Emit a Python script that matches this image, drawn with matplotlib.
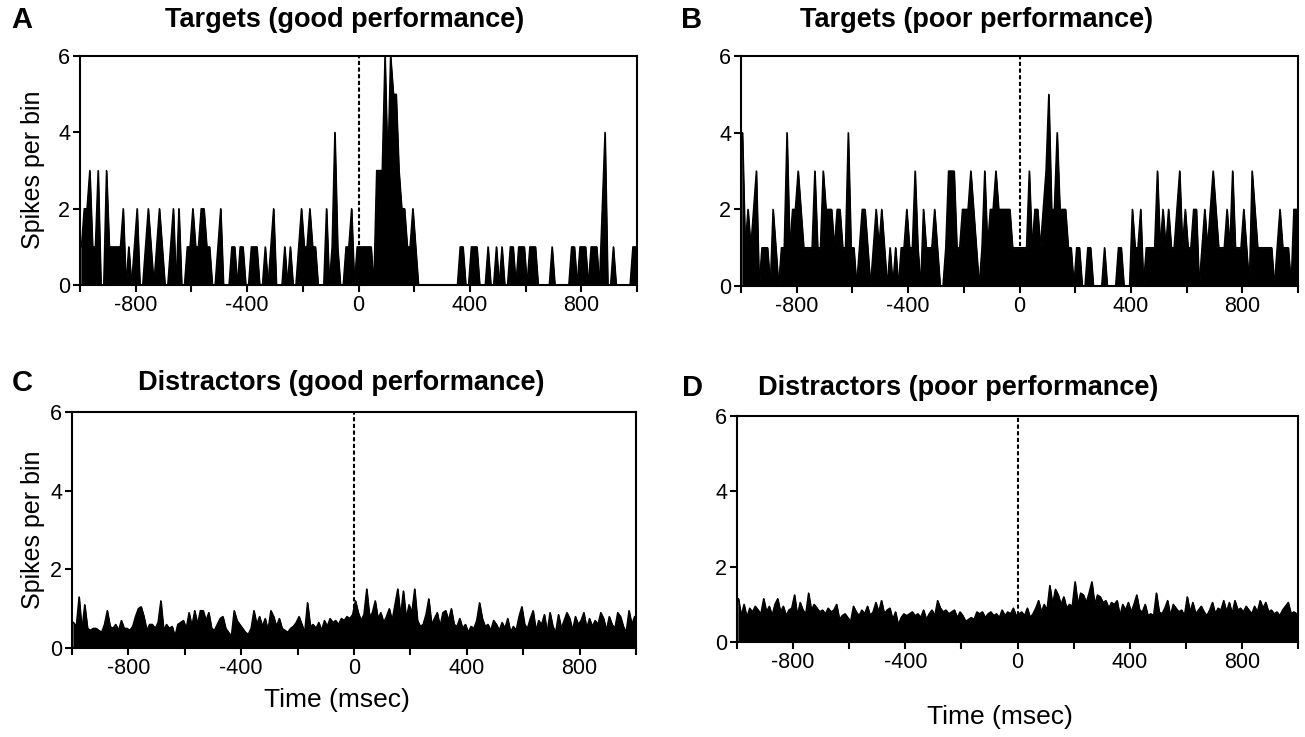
import numpy as np
import matplotlib
matplotlib.use("Agg")
import matplotlib.pyplot as plt

plt.rcParams['font.family'] = ['Liberation Sans', 'DejaVu Sans']

# -------------------------------
# Data (10 ms bins, -1000 .. 990 ms)
# -------------------------------
bins = np.arange(-1000, 1000, 10)

targets_good = [
    1, 2, 2, 3, 1, 1, 3, 0, 0, 3,
    1, 1, 1, 1, 1, 2, 0, 1, 0, 1,
    2, 0, 0, 1, 2, 1, 0, 1, 2, 1,
    0, 0, 1, 2, 0, 2, 0, 0, 1, 1,
    2, 1, 1, 2, 2, 1, 1, 0, 0, 1,
    2, 0, 0, 0, 1, 1, 0, 1, 1, 0,
    0, 1, 1, 1, 0, 0, 1, 0, 1, 2,
    0, 0, 0, 1, 0, 1, 0, 0, 1, 2,
    1, 1, 2, 1, 1, 0, 0, 0, 2, 0,
    1, 4, 1, 0, 0, 1, 1, 2, 0, 1,
    1, 1, 1, 1, 1, 0, 3, 3, 3, 6,
    3, 6, 5, 5, 3, 2, 2, 1, 1, 2,
    1, 0, 0, 0, 0, 0, 0, 0, 0, 0,
    0, 0, 0, 0, 0, 0, 1, 1, 0, 0,
    1, 1, 1, 0, 0, 0, 1, 0, 0, 1,
    0, 1, 0, 0, 1, 1, 0, 1, 1, 1,
    0, 1, 1, 1, 0, 0, 0, 0, 0, 1,
    0, 0, 0, 0, 0, 0, 1, 1, 0, 1,
    1, 1, 0, 1, 1, 1, 0, 2, 4, 0,
    0, 1, 0, 0, 0, 0, 0, 0, 1, 1,
]

targets_poor = [
    4, 1, 2, 1, 2, 3, 0, 1, 1, 1,
    0, 2, 1, 0, 1, 1, 4, 1, 2, 2,
    3, 2, 1, 1, 1, 1, 3, 1, 1, 3,
    2, 2, 2, 1, 2, 2, 1, 1, 4, 1,
    1, 0, 1, 2, 2, 1, 0, 1, 2, 1,
    2, 1, 0, 1, 0, 1, 0, 1, 1, 2,
    1, 1, 3, 1, 0, 2, 1, 1, 1, 2,
    1, 0, 0, 1, 3, 3, 3, 1, 1, 2,
    2, 2, 3, 2, 1, 0, 1, 3, 1, 2,
    2, 3, 2, 2, 2, 2, 2, 1, 1, 1,
    1, 1, 1, 3, 1, 2, 2, 1, 2, 3,
    5, 2, 2, 4, 2, 2, 2, 1, 1, 0,
    1, 1, 0, 0, 1, 1, 0, 0, 0, 0,
    1, 0, 0, 0, 0, 1, 1, 0, 0, 0,
    2, 1, 1, 2, 0, 1, 1, 1, 1, 3,
    1, 2, 1, 2, 1, 1, 2, 3, 1, 2,
    1, 1, 2, 2, 0, 1, 2, 1, 2, 3,
    2, 1, 1, 1, 2, 1, 3, 1, 1, 1,
    2, 1, 0, 3, 2, 1, 1, 1, 1, 1,
    1, 0, 1, 2, 1, 1, 1, 0, 2, 2,
]

distractors_good = [
    0.65, 0.55, 1.3, 0.45, 1.1, 0.5, 0.45, 0.5, 0.5, 0.45,
    0.4, 0.6, 0.95, 0.55, 0.5, 0.6, 0.45, 0.7, 0.5, 0.5,
    0.45, 0.55, 0.8, 1.0, 1.05, 0.8, 0.45, 0.6, 0.6, 0.5,
    0.65, 1.2, 0.45, 0.6, 0.5, 0.55, 0.3, 0.6, 0.65, 0.7,
    0.5, 0.9, 0.55, 0.95, 0.6, 0.95, 0.95, 0.7, 0.9, 0.5,
    0.45, 0.6, 0.75, 0.8, 0.5, 0.4, 0.3, 0.95, 0.7, 0.6,
    0.5, 0.4, 0.35, 0.5, 0.95, 0.6, 0.8, 0.55, 0.75, 0.45,
    0.95, 0.8, 0.55, 0.75, 0.5, 0.45, 0.4, 0.5, 0.55, 0.65,
    0.8, 0.6, 0.4, 1.15, 0.55, 0.6, 0.5, 0.65, 0.45, 0.7,
    0.55, 0.75, 0.65, 0.7, 0.6, 0.75, 0.7, 0.8, 0.75, 0.85,
    1.2, 0.9, 0.7, 0.85, 1.5, 0.8, 0.9, 1.2, 0.75, 0.9,
    0.65, 0.8, 1.0, 0.7, 1.1, 1.5, 0.8, 1.45, 0.75, 1.1,
    0.9, 1.5, 0.7, 0.55, 0.6, 0.85, 1.25, 0.6, 0.75, 0.9,
    0.55, 0.9, 0.95, 0.7, 1.0, 0.6, 0.55, 0.75, 0.5, 0.6,
    0.4, 0.55, 0.5, 0.7, 1.15, 0.75, 0.55, 0.6, 0.45, 0.7,
    0.6, 0.45, 0.65, 0.5, 0.75, 0.4, 0.55, 0.45, 0.8, 1.05,
    0.6, 0.5, 0.75, 0.95, 0.45, 0.7, 0.6, 0.85, 0.4, 0.9,
    0.55, 0.4, 0.85, 0.5, 0.7, 0.9, 0.75, 0.45, 0.8, 0.6,
    0.7, 0.9, 0.5, 0.75, 0.55, 0.7, 0.6, 0.9, 0.75, 0.45,
    0.8, 0.6, 0.5, 0.9, 0.8, 0.55, 0.4, 0.95, 0.6, 0.8,
]

distractors_poor = [
    1.15, 0.7, 1.0, 0.65, 0.9, 0.8, 0.95, 0.85, 0.75, 1.15,
    0.8, 0.95, 0.7, 1.0, 1.15, 0.8, 0.95, 0.7, 0.85, 0.9,
    1.25, 0.7, 1.05, 0.85, 0.75, 1.3, 0.85, 1.0, 0.9, 0.8,
    0.85, 0.75, 0.9, 0.8, 0.85, 1.0, 0.6, 0.7, 0.75, 0.65,
    0.55, 0.95, 0.8, 0.7, 0.85, 0.75, 0.95, 0.7, 0.8, 1.05,
    0.8, 1.1, 0.75, 0.85, 0.9, 0.6, 0.8, 0.45, 0.65, 0.75,
    0.7, 0.75, 0.8, 0.7, 0.75, 0.65, 0.85, 0.6, 0.75, 0.85,
    0.7, 1.1, 0.9, 0.8, 0.85, 0.75, 0.8, 0.85, 0.65, 0.8,
    0.7, 0.55, 0.6, 0.65, 0.6, 0.8, 0.75, 0.8, 0.65, 0.75,
    0.8, 0.7, 0.75, 0.65, 0.85, 0.7, 0.8, 0.75, 0.9, 0.7,
    0.75, 0.8, 0.7, 0.9, 0.65, 0.75, 0.9, 1.1, 0.8, 1.0,
    0.85, 1.5, 1.0, 1.4, 1.25, 1.0, 1.2, 0.9, 1.0, 0.95,
    1.6, 1.0, 1.3, 1.25, 1.05, 1.3, 1.6, 1.0, 1.25, 1.2,
    1.05, 1.1, 0.9, 1.05, 1.0, 1.1, 0.7, 1.0, 0.85, 1.05,
    0.8, 1.0, 1.25, 0.85, 0.8, 1.0, 0.7, 0.75, 0.7, 1.3,
    0.8, 0.75, 0.9, 1.1, 0.7, 1.0, 0.9, 0.8, 0.85, 0.7,
    1.2, 0.8, 1.05, 0.75, 0.85, 0.95, 0.8, 0.7, 0.85, 1.05,
    0.75, 0.9, 0.85, 1.1, 0.8, 1.05, 0.75, 1.1, 0.85, 0.9,
    0.8, 0.95, 0.85, 0.75, 0.95, 0.8, 1.1, 0.9, 1.05, 0.8,
    0.85, 0.75, 0.8, 0.7, 0.85, 0.95, 1.05, 0.75, 0.8, 0.75,
]

panels = [
    ("A", "Targets (good performance)", targets_good),
    ("B", "Targets (poor performance)", targets_poor),
    ("C", "Distractors (good performance)", distractors_good),
    ("D", "Distractors (poor performance)", distractors_poor),
]

# -------------------------------
# Layout (pixel boxes -> figure fractions)
# -------------------------------
W, H = 1305, 737
boxes = [
    (80, 637, 56, 285),
    (741, 1298, 56, 286),
    (72, 636, 412, 648),
    (737, 1298, 416, 642),
]
letter_pos = [(22, 20), (692, 20), (22, 383), (692, 388)]
title_pos = [(345, 20), (977, 20), (341, 383), (958, 388)]

fig = plt.figure(figsize=(W / 100, H / 100), dpi=100)

for k, (letter, title, vals) in enumerate(panels):
    l, r, t, b = boxes[k]
    ax = fig.add_axes([l / W, 1 - b / H, (r - l) / W, (b - t) / H])
    x = bins + 5
    y = np.clip(vals, 0, 6)
    ax.fill_between(x, 0, y, color='black', linewidth=0.8)
    ax.plot(x, y, color='black', lw=1.0)
    ax.plot([0, 0], [0, 6], color='black', lw=1.5, ls=(0, (2, 1.2)))

    ax.set_xlim(-1000, 1000)
    ax.set_ylim(0, 6)
    ax.set_xticks(np.arange(-1000, 1001, 200))
    ax.set_xticklabels(['' if v % 400 else str(v) for v in np.arange(-1000, 1001, 200)])
    ax.set_yticks([0, 2, 4, 6])
    ax.tick_params(direction='out', length=5, width=1.5, labelsize=15.5, pad=2)
    for s in ax.spines.values():
        s.set_linewidth(1.5)

    fig.text(letter_pos[k][0] / W, 1 - letter_pos[k][1] / H, letter,
             fontsize=21, fontweight='bold', ha='center', va='center')
    fig.text(title_pos[k][0] / W, 1 - title_pos[k][1] / H, title,
             fontsize=19.5, fontweight='bold', ha='center', va='center')

# axis labels
fig.text(33 / W, 1 - 170 / H, "Spikes per bin", rotation=90, fontsize=18, ha='center', va='center')
fig.text(33 / W, 1 - 530 / H, "Spikes per bin", rotation=90, fontsize=18, ha='center', va='center')
fig.text(337 / W, 1 - 700 / H, "Time (msec)", fontsize=19, ha='center', va='center')
fig.text(1000 / W, 1 - 717 / H, "Time (msec)", fontsize=19, ha='center', va='center')

plt.savefig("out.png", dpi=100)
